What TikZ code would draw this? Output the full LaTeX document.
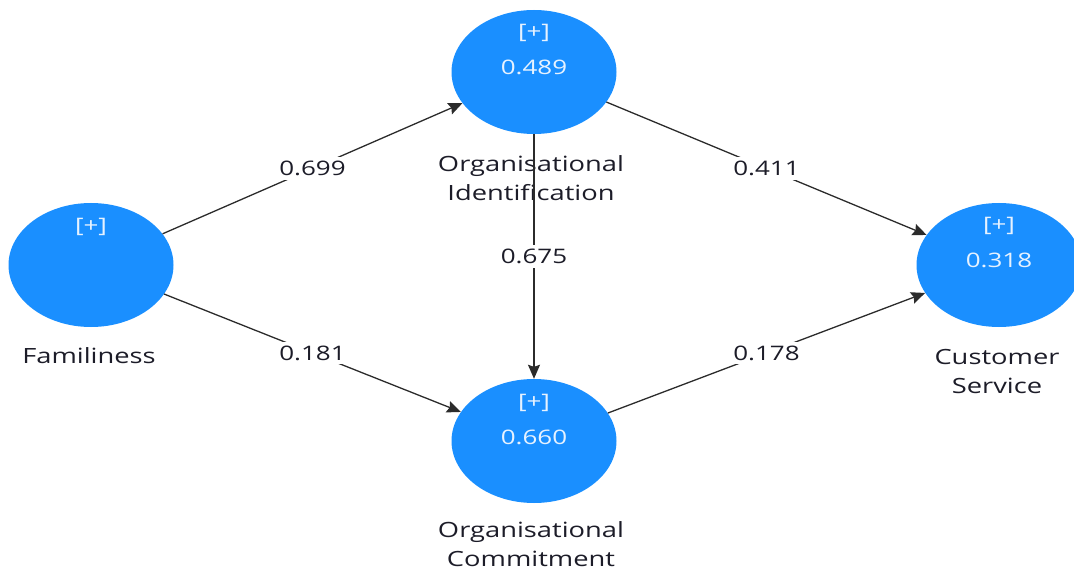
\documentclass[tikz,border=0pt]{standalone}
\usepackage{fontspec}
\setmainfont{Open Sans}
\newfontfamily\widefont[FakeStretch=1.3]{Open Sans}
\usetikzlibrary{shapes.geometric,arrows.meta}
\definecolor{lvfill}{HTML}{1A8FFF}
\definecolor{lvtext}{HTML}{E6F2FF}
\definecolor{edgecol}{HTML}{2B2B2B}
\definecolor{labcol}{HTML}{1C1C28}
\tikzset{
  latent/.style={ellipse, fill=lvfill, minimum width=165pt, minimum height=124pt, inner sep=0pt},
  intext/.style={text=lvtext, font=\widefont\fontsize{20}{24}\selectfont, inner sep=0pt},
  varname/.style={text=labcol, align=center, font=\widefont\fontsize{21}{29}\selectfont, inner sep=0pt},
  patharrow/.style={draw=edgecol, line width=1.3pt, -{Stealth[length=14pt,width=12pt,inset=2pt]}},
  coef/.style={fill=white, text=labcol, font=\widefont\fontsize{20}{24}\selectfont, inner sep=4pt}
}
\begin{document}
\begin{tikzpicture}[x=1pt,y=-1pt]
\useasboundingbox (0,0) rectangle (1074,572);

% latent variables
\node[latent] (fam) at (91,265) {};
\node[latent] (oi)  at (534,72) {};
\node[latent] (oc)  at (534,441) {};
\node[latent] (cs)  at (999,265) {};

% texts inside the circles
\node[intext] (fam-plus) at (91,227) {[+]};
\node[intext] (oi-plus)  at (534,33) {[+]};
\node[intext] (oi-val)   at (534,67) {0.489};
\node[intext] (oc-plus)  at (534,403) {[+]};
\node[intext] (oc-val)   at (534,437) {0.660};
\node[intext] (cs-plus)  at (999,226) {[+]};
\node[intext] (cs-val)   at (999,260) {0.318};

% construct names
\node[varname] (fam-name) at (89,356) {Familiness};
\node[varname] (oi-name)  at (531,178) {Organisational\\Identification};
\node[varname] (cs-name)  at (997,371) {Customer\\Service};
\node[varname] (oc-name)  at (531,544) {Organisational\\Commitment};

% structural paths with coefficients
\draw[patharrow] (fam) -- node[coef] {0.699} (oi);
\draw[patharrow] (fam) -- node[coef] {0.181} (oc);
\draw[patharrow] (oi) -- node[coef] {0.411} (cs);
\draw[patharrow] (oc) -- node[coef] {0.178} (cs);
\draw[patharrow] (oi) -- node[coef] {0.675} (oc);
\end{tikzpicture}
\end{document}
